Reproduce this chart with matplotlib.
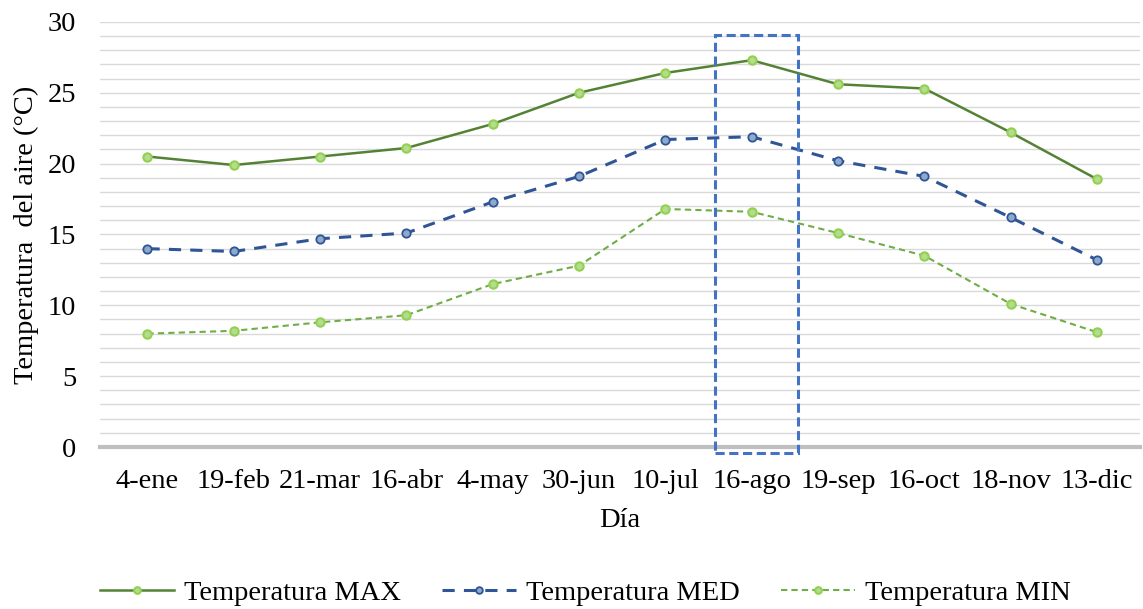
import matplotlib.pyplot as plt
from matplotlib.patches import Rectangle
import numpy as np

plt.rcParams['font.family'] = ['Liberation Serif', 'DejaVu Serif']

dias = ['4-ene', '19-feb', '21-mar', '16-abr', '4-may', '30-jun',
        '10-jul', '16-ago', '19-sep', '16-oct', '18-nov', '13-dic']
t_max = [20.5, 19.9, 20.5, 21.1, 22.8, 25.0, 26.4, 27.3, 25.6, 25.3, 22.2, 18.9]
t_med = [14.0, 13.8, 14.7, 15.1, 17.3, 19.1, 21.7, 21.9, 20.2, 19.1, 16.2, 13.2]
t_min = [8.0, 8.2, 8.8, 9.3, 11.5, 12.8, 16.8, 16.6, 15.1, 13.5, 10.1, 8.1]
resaltado = '16-ago'

fig = plt.figure(figsize=(11.43, 6.09), dpi=100)
ax = fig.add_axes([0.0875, 0.266, 0.91, 0.698])
x = np.arange(len(dias))

ax.plot(x, t_max, color='#548235', lw=1.8, marker='o', ms=6,
        mfc='#b4dc8c', mec='#92d050', mew=1.5, label='Temperatura MAX')
ax.plot(x, t_med, color='#2f5597', lw=2.2, ls=(0, (4, 3)), marker='o', ms=6,
        mfc='#8eaacb', mec='#2f5597', mew=1.3, label='Temperatura MED')
ax.plot(x, t_min, color='#70ad47', lw=1.5, ls=(0, (3, 2)), marker='o', ms=6,
        mfc='#b4dc8c', mec='#92d050', mew=1.5, label='Temperatura MIN')

# recuadro sobre la fecha destacada
i = dias.index(resaltado)
rect = Rectangle((i - 0.43, -0.45), 0.97, 29.55, fill=False, ec='#4472c4',
                 lw=2.2, ls=(0, (3, 1.5)), clip_on=False, zorder=5)
ax.add_patch(rect)

ax.set_xlim(-0.55, 11.5)
ax.set_ylim(0, 30)
ax.set_yticks(range(0, 31, 5))
ax.set_yticks(range(0, 31), minor=True)
ax.set_xticks(x)
ax.set_xticklabels(dias)
ax.grid(axis='y', which='both', color='#d9d9d9', lw=1)
ax.set_axisbelow(True)
ax.tick_params(axis='both', which='both', length=0, labelsize=20.5)
ax.tick_params(axis='x', pad=16)
ax.tick_params(axis='y', pad=17)
for s in ['top', 'right', 'left']:
    ax.spines[s].set_visible(False)
ax.spines['bottom'].set_color('#bfbfbf')
ax.spines['bottom'].set_linewidth(3)

ax.set_xlabel('Día', fontsize=20.5, labelpad=10)
ax.set_ylabel('Temperatura  del aire (°C)', fontsize=20.5, va='center')
ax.yaxis.set_label_coords(-0.071, 0.5)

fig.legend(loc='center', bbox_to_anchor=(0.512, 0.027), ncol=3,
           frameon=False, fontsize=20.5, handlelength=2.6, handletextpad=0.35,
           columnspacing=1.45, markerscale=0.8)

fig.savefig('out.png', dpi=100)
